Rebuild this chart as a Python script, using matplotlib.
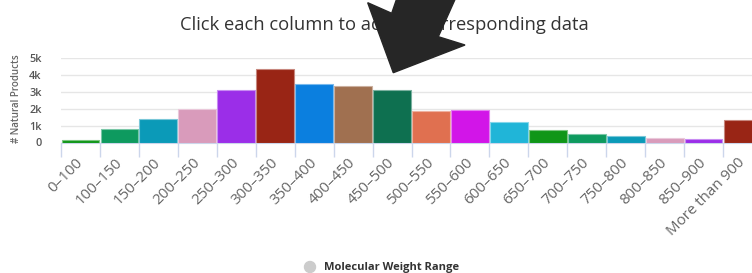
import numpy as np
import matplotlib.pyplot as plt
from matplotlib.patches import Polygon, Ellipse
from matplotlib.colors import to_rgb
from matplotlib.transforms import ScaledTranslation

plt.rcParams['font.family'] = ['Open Sans', 'DejaVu Sans']

# data
ranges = ['0–100', '100–150', '150–200', '200–250', '250–300', '300–350',
          '350–400', '400–450', '450–500', '500–550', '550–600', '600–650',
          '650–700', '700–750', '750–800', '800–850', '850–900', 'More than 900']
counts = [170, 770, 1380, 1960, 3100, 4330, 3460, 3360, 3070,
          1860, 1920, 1210, 760, 520, 400, 280, 190, 1330]
palette = ['#109618', '#0e9a5f', '#0b9ab8', '#d99bbb', '#9b2ee8', '#992515',
           '#0b7fdf', '#a07050', '#0e7050', '#e07050', '#d215e8', '#20b5d8']
yticks = [0, 1000, 2000, 3000, 4000, 5000]
ylabels = ['0', '1k', '2k', '3k', '4k', '5k']

W, H = 752, 273
fig = plt.figure(figsize=(W / 100, H / 100), dpi=100)
ax = fig.add_axes([61 / W, (H - 142.5) / H, 701 / W, 84.8 / H])

x = np.arange(len(ranges))
cols = [palette[i % len(palette)] for i in x]
edges = [tuple(0.55 * np.array(to_rgb(c)) + 0.45) for c in cols]
ax.bar(x, counts, width=0.97, color=cols, edgecolor=edges, linewidth=0.8, zorder=3)

ax.set_xlim(-0.5, len(ranges) - 0.5)
ax.set_ylim(0, 5000)
ax.set_yticks(yticks)
ax.set_yticklabels(ylabels, fontsize=7.8, color='#555555', fontweight='semibold')
ax.yaxis.grid(True, color='#e6e6e6', linewidth=1)
ax.tick_params(axis='y', length=0, pad=14)

ax.set_xticks(x)
ax.set_xticklabels(ranges, rotation=45, ha='right', rotation_mode='anchor',
                   fontsize=10.9, color='#666666')
ax.tick_params(axis='x', length=0, pad=9)
shift = ScaledTranslation(-5 / 100, 0, fig.dpi_scale_trans)
for lab in ax.get_xticklabels():
    lab.set_transform(lab.get_transform() + shift)
ax.set_xticks(np.arange(len(ranges) + 1) - 0.5, minor=True)
ax.tick_params(axis='x', which='minor', length=10, color='#ccd6eb', width=1)

for s in ['top', 'right', 'left']:
    ax.spines[s].set_visible(False)
ax.spines['bottom'].set_color('#ccd6eb')
ax.set_axisbelow(True)

fig.text(17 / W, 1 - 99 / H, '# Natural Products', rotation=90, ha='center', va='center',
         fontsize=7, color='#666666', fontweight='semibold')

fig.text(384 / W, 1 - 25 / H, 'Click each column to access corresponding data',
         ha='center', va='center', fontsize=13.2, color='#333333')

# legend
fig.patches.append(Ellipse((310 / W, 1 - 267 / H), 11 / W, 11 / H, transform=fig.transFigure,
                           color='#cccccc', figure=fig))
fig.text(324 / W, 1 - 267.5 / H, 'Molecular Weight Range', ha='left', va='center',
         fontsize=8, fontweight='bold', color='#333333')

# big arrow overlay
arrow = [(367.7, 2.7), (391.7, 13.3), (398, -5), (457, -5), (438.3, 36.7),
         (465, 45), (393.3, 72.7)]
fig.patches.append(Polygon([(px / W, 1 - py / H) for px, py in arrow], closed=True,
                           transform=fig.transFigure, color='#262626', zorder=10, figure=fig))

fig.savefig('out.png', dpi=100)
